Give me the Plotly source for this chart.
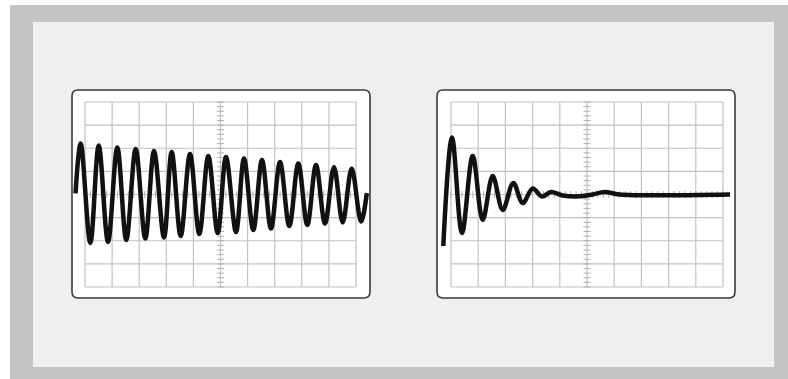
import plotly.graph_objects as go

# ---- data (units: grid divisions) ----
# Left screen: slowly decaying oscillation
left_start = (-0.35, 0.05)
left_peak_x = [-0.159, 0.506, 1.192, 1.871, 2.546, 3.199, 3.875, 4.550, 5.203, 5.867, 6.531, 7.196, 7.871, 8.524, 9.188, 9.841]
left_peak_y = [2.205, 2.119, 2.032, 1.968, 1.881, 1.838, 1.751, 1.665, 1.622, 1.557, 1.492, 1.405, 1.341, 1.276, 1.189, 1.124]
left_trough_x = [0.196, 0.849, 1.524, 2.225, 2.915, 3.531, 4.218, 4.897, 5.572, 6.210, 6.863, 7.539, 8.203, 8.856, 9.509, 10.185]
left_trough_y = [-2.097, -2.054, -1.968, -1.903, -1.859, -1.795, -1.708, -1.665, -1.622, -1.535, -1.470, -1.362, -1.319, -1.254, -1.211, -1.168]
left_end = (10.40, 0.06)

# Right screen: strongly damped oscillation
right_x = [-0.283, 0.037, 0.404, 0.798, 1.165, 1.533, 1.901, 2.290, 2.636, 3.004, 3.346, 3.676, 4.10, 4.75, 5.20, 5.66, 6.20, 10.26]
right_y = [-2.227, 2.465, -1.665, 1.665, -1.103, 0.800, -0.670, 0.497, -0.368, 0.259, -0.086, 0.108, -0.04, -0.08, 0.0, 0.11, 0.0, 0.0]

# ---- build left trace in order ----
left_x = [left_start[0]]
left_y = [left_start[1]]
for px, py, tx, ty in zip(left_peak_x, left_peak_y, left_trough_x, left_trough_y):
    left_x += [px, tx]
    left_y += [py, ty]
left_x.append(left_end[0])
left_y.append(left_end[1])

W, H = 788, 379
fig = go.Figure()

# screen geometry (pixels)
screens = [
    dict(gx0=85, ppx=27.1, cy=194.5, ppy=23.125, bx0=72, bx1=370, by0=90, by1=298, xs=left_x, ys=left_y),
    dict(gx0=451, ppx=27.2, cy=194.5, ppy=23.125, bx0=437, bx1=735, by0=90, by1=298, xs=right_x, ys=right_y),
]

shapes = []
# outer grey frame and inner panel (paper coords)
shapes.append(dict(type="rect", xref="paper", yref="paper", x0=10 / W, x1=1, y0=0, y1=(H - 5) / H,
                   fillcolor="#c4c4c4", line=dict(width=0), layer="below"))
shapes.append(dict(type="rect", xref="paper", yref="paper", x0=33 / W, x1=774 / W, y0=(H - 367) / H, y1=(H - 22) / H,
                   fillcolor="#efefef", line=dict(width=0), layer="below"))

layout_axes = {}
pad = 5
for i, s in enumerate(screens):
    n = "" if i == 0 else str(i + 1)
    xa, ya = "x" + n, "y" + n
    dx0, dx1 = s["bx0"] - pad, s["bx1"] + pad
    dy0, dy1 = s["by0"] - pad, s["by1"] + pad
    xr = [(dx0 - s["gx0"]) / s["ppx"], (dx1 - s["gx0"]) / s["ppx"]]
    yr = [(s["cy"] - dy1) / s["ppy"], (s["cy"] - dy0) / s["ppy"]]
    layout_axes["xaxis" + n] = dict(domain=[dx0 / W, dx1 / W], range=xr, visible=False, fixedrange=True, anchor=ya)
    layout_axes["yaxis" + n] = dict(domain=[(H - dy1) / H, (H - dy0) / H], range=yr, visible=False, fixedrange=True, anchor=xa)

    # rounded box
    X0 = (s["bx0"] - s["gx0"]) / s["ppx"]
    X1 = (s["bx1"] - s["gx0"]) / s["ppx"]
    Y1 = (s["cy"] - s["by0"]) / s["ppy"]
    Y0 = (s["cy"] - s["by1"]) / s["ppy"]
    rx = 6 / s["ppx"]
    ry = 6 / s["ppy"]
    path = (f"M {X0 + rx},{Y1} L {X1 - rx},{Y1} Q {X1},{Y1} {X1},{Y1 - ry} "
            f"L {X1},{Y0 + ry} Q {X1},{Y0} {X1 - rx},{Y0} "
            f"L {X0 + rx},{Y0} Q {X0},{Y0} {X0},{Y0 + ry} "
            f"L {X0},{Y1 - ry} Q {X0},{Y1} {X0 + rx},{Y1} Z")
    shapes.append(dict(type="path", xref=xa, yref=ya, path=path, fillcolor="white",
                       line=dict(color="#3a3a3a", width=1.6), layer="below"))
    # grid
    for gx in range(0, 11):
        shapes.append(dict(type="line", xref=xa, yref=ya, x0=gx, x1=gx, y0=-4, y1=4,
                           line=dict(color="#c2c2c2", width=1.2), layer="below"))
    for gy in range(-4, 5):
        shapes.append(dict(type="line", xref=xa, yref=ya, x0=0, x1=10, y0=gy, y1=gy,
                           line=dict(color="#c2c2c2", width=1.2), layer="below"))
    # minor ticks on centre lines
    ty = [k / 5 for k in range(-20, 21)]
    tx = [k / 5 for k in range(0, 51)]
    fig.add_trace(go.Scatter(x=[5] * len(ty), y=ty, mode="markers", xaxis=xa, yaxis=ya, hoverinfo="skip",
                             marker=dict(symbol="line-ew", size=5, line=dict(color="#b0b0b0", width=1))))
    fig.add_trace(go.Scatter(x=tx, y=[0] * len(tx), mode="markers", xaxis=xa, yaxis=ya, hoverinfo="skip",
                             marker=dict(symbol="line-ns", size=5, line=dict(color="#b0b0b0", width=1))))
    # waveform
    fig.add_trace(go.Scatter(x=s["xs"], y=s["ys"], mode="lines", xaxis=xa, yaxis=ya, hoverinfo="skip",
                             line=dict(color="#111111", width=4.5, shape="spline", smoothing=1.0)))

fig.update_layout(width=W, height=H, margin=dict(l=0, r=0, t=0, b=0), paper_bgcolor="white",
                  plot_bgcolor="rgba(0,0,0,0)", showlegend=False, shapes=shapes, **layout_axes)

fig.write_html("out.html", config={"displayModeBar": False},
               post_script="document.body.style.margin='0';document.body.style.overflow='hidden';")
